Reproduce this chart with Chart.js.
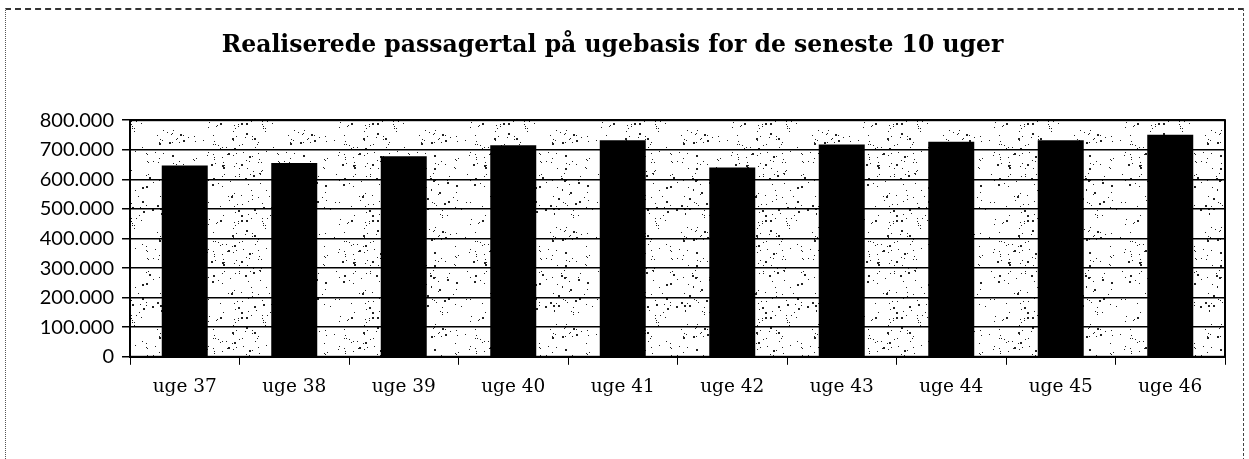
<!DOCTYPE html>
<html>
<head>
<meta charset="utf-8">
<script src="https://cdn.jsdelivr.net/npm/chart.js@4/dist/chart.umd.min.js"></script>
<style>
    html, body { margin: 0; padding: 0; background: #fff; }
    #wrap {
        position: relative;
        width: 1249px;
        height: 459px;
        box-sizing: border-box;
    }
    #frame {
        position: absolute;
        left: 5px; top: 8px; right: 5px; bottom: -2px;
        border-top: 2px dashed #333;
        border-left: 1px dotted #555;
        border-right: 1px dashed #444;
        pointer-events: none;
    }
</style>
</head>
<body>
<div id="wrap">
    <canvas id="weeklyChart" width="1249" height="459"></canvas>
    <div id="frame"></div>
</div>
<script>
// Weekly passenger numbers chart

const titleText = 'Realiserede passagertal på ugebasis for de seneste 10 uger';
const weeks = ['uge 37', 'uge 38', 'uge 39', 'uge 40', 'uge 41', 'uge 42', 'uge 43', 'uge 44', 'uge 45', 'uge 46'];
const passengers = [647000, 655000, 678000, 715000, 732000, 640000, 718000, 727000, 732000, 751000];
const yTicks = [0, 100000, 200000, 300000, 400000, 500000, 600000, 700000, 800000];

/**
 * Build a stippled fill pattern (fixed seed, so it is the same every time)
 */
function makeStipple() {
    const c = document.createElement('canvas');
    c.width = 131;
    c.height = 97;
    const g = c.getContext('2d');
    let seed = 12345;
    const next = () => {
        seed = (seed * 1103515245 + 12345) & 0x7fffffff;
        return seed / 0x7fffffff;
    };
    g.fillStyle = '#222';
    for (let i = 0; i < 230; i++) {
        const x = Math.floor(next() * c.width);
        const y = Math.floor(next() * c.height);
        const s = next() < 0.25 ? 2 : 1;
        g.fillRect(x, y, s, s);
    }
    return g.createPattern(c, 'repeat');
}

const stipplePlugin = {
    id: 'stipple',
    beforeDraw(chart) {
        const a = chart.chartArea;
        const ctx = chart.ctx;
        ctx.save();
        ctx.fillStyle = makeStipple();
        ctx.fillRect(a.left, a.top, a.right - a.left, a.bottom - a.top);
        ctx.restore();
    },
    afterDraw(chart) {
        const a = chart.chartArea;
        const ctx = chart.ctx;
        ctx.save();
        ctx.strokeStyle = '#000';
        ctx.lineWidth = 2;
        ctx.strokeRect(a.left, a.top, a.right - a.left, a.bottom - a.top);
        ctx.restore();
    }
};

function formatThousands(v) {
    return String(v).replace(/\B(?=(\d{3})+(?!\d))/g, '.');
}

new Chart(document.getElementById('weeklyChart'), {
    type: 'bar',
    data: {
        labels: weeks,
        datasets: [{
            data: passengers,
            backgroundColor: '#000',
            borderWidth: 0,
            barPercentage: 0.42,
            categoryPercentage: 1
        }]
    },
    options: {
        responsive: false,
        animation: false,
        layout: {
            padding: { left: 0, right: 24, top: 0, bottom: 50 }
        },
        plugins: {
            legend: { display: false },
            tooltip: { enabled: false },
            title: {
                display: true,
                text: titleText,
                color: '#000',
                font: { family: 'DejaVu Serif', size: 23.5, weight: 'bold' },
                padding: { top: 32, bottom: 60 }
            }
        },
        scales: {
            x: {
                grid: {
                    offset: true,
                    drawOnChartArea: false,
                    color: '#000',
                    lineWidth: 1,
                    tickLength: 8
                },
                border: { color: '#000', width: 2 },
                ticks: {
                    color: '#000',
                    padding: 11,
                    maxRotation: 0,
                    font: { family: 'DejaVu Serif', size: 18.5 }
                }
            },
            y: {
                min: 0,
                max: 800000,
                afterFit(scale) { scale.width = 130; },
                afterBuildTicks(scale) {
                    scale.ticks = yTicks.map(v => ({ value: v }));
                },
                grid: {
                    color: '#000',
                    lineWidth: 1.5,
                    tickLength: 8
                },
                border: { color: '#000', width: 2 },
                ticks: {
                    color: '#000',
                    padding: 8,
                    font: { family: 'Lato', size: 20 },
                    callback: v => formatThousands(v)
                }
            }
        }
    },
    plugins: [stipplePlugin]
});
</script>
</body>
</html>
